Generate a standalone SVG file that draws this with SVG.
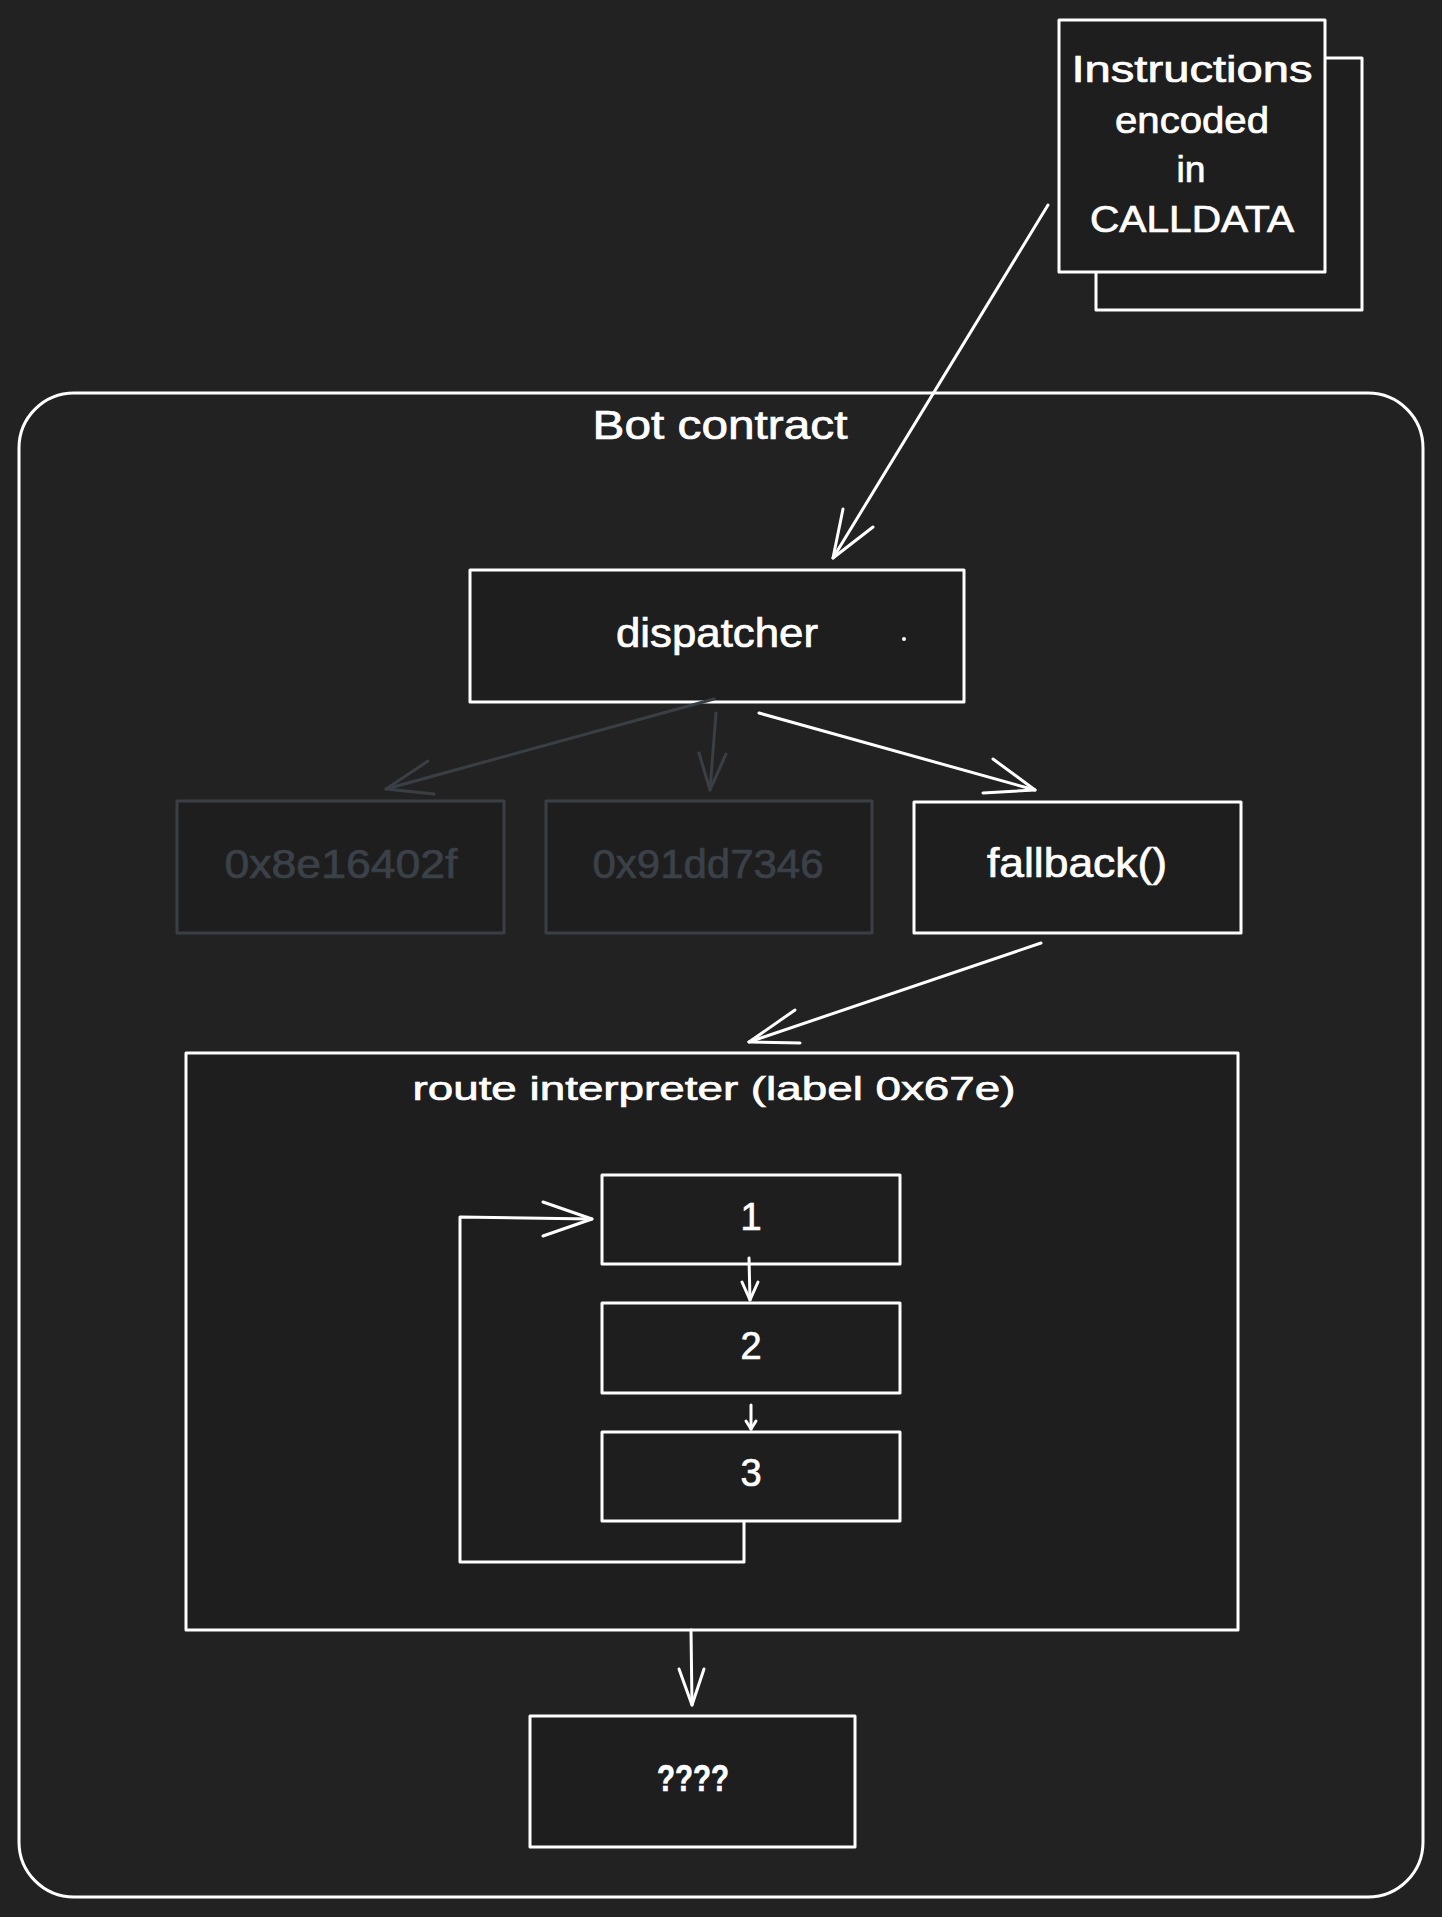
<svg xmlns="http://www.w3.org/2000/svg" width="1442" height="1917" viewBox="0 0 1442 1917">
  <defs>
    <style>
      .bg { fill: #222222; }
      .node { fill: #1e1e1e; stroke: #ffffff; stroke-width: 3; stroke-linejoin: round; }
      .ghost { fill: #1e1e1e; stroke: #3a3f46; stroke-width: 3; stroke-linejoin: round; }
      .container { fill: none; stroke: #ffffff; stroke-width: 3; }
      .t { font-family: "Liberation Sans", Arial, sans-serif; fill: #ffffff; stroke: #ffffff; stroke-width: 0.7; text-anchor: middle; }
      .tg { font-family: "Liberation Sans", Arial, sans-serif; fill: #3b4149; stroke: #3b4149; stroke-width: 0.7; text-anchor: middle; }
      .w { fill: none; stroke: #ffffff; stroke-width: 3; stroke-linecap: round; stroke-linejoin: round; }
      .g { fill: none; stroke: #3a3f46; stroke-width: 3; stroke-linecap: round; stroke-linejoin: round; }
    </style>
  </defs>
  <rect class="bg" x="0" y="0" width="1442" height="1917"/>

  <g id="bot-contract">
    <rect class="container" x="19" y="393" width="1404" height="1504" rx="55" ry="55"/>
    <text class="t" x="720" y="439" font-size="40" textLength="255" lengthAdjust="spacingAndGlyphs">Bot contract</text>
  </g>

  <g id="calldata">
    <rect class="node" x="1096" y="58" width="266" height="252"/>
    <rect class="node" x="1059" y="20" width="266" height="252"/>
    <text class="t" x="1192" y="82" font-size="36" textLength="241" lengthAdjust="spacingAndGlyphs">Instructions</text>
    <text class="t" x="1192" y="133" font-size="36" textLength="154" lengthAdjust="spacingAndGlyphs">encoded</text>
    <text class="t" x="1191" y="182" font-size="36" textLength="29" lengthAdjust="spacingAndGlyphs">in</text>
    <text class="t" x="1192" y="232" font-size="36" textLength="204" lengthAdjust="spacingAndGlyphs">CALLDATA</text>
  </g>

  <g id="dispatcher">
    <rect class="node" x="470" y="570" width="494" height="132"/>
    <text class="t" x="717" y="647" font-size="40" textLength="202" lengthAdjust="spacingAndGlyphs">dispatcher</text>
    <circle cx="904" cy="639" r="2" fill="#ffffff"/>
  </g>

  <g id="sel-0x8e16402f">
    <rect class="ghost" x="177" y="801" width="327" height="132"/>
    <text class="tg" x="341" y="878" font-size="40" textLength="233" lengthAdjust="spacingAndGlyphs">0x8e16402f</text>
  </g>

  <g id="sel-0x91dd7346">
    <rect class="ghost" x="546" y="801" width="326" height="132"/>
    <text class="tg" x="708" y="878" font-size="40" textLength="231" lengthAdjust="spacingAndGlyphs">0x91dd7346</text>
  </g>

  <g id="fallback">
    <rect class="node" x="914" y="802" width="327" height="131"/>
    <text class="t" x="1077" y="877" font-size="40" textLength="180" lengthAdjust="spacingAndGlyphs">fallback()</text>
  </g>

  <g id="route-interpreter">
    <rect class="node" x="186" y="1053" width="1052" height="577"/>
    <text class="t" x="714" y="1100" font-size="34" textLength="603" lengthAdjust="spacingAndGlyphs">route interpreter (label 0x67e)</text>
  </g>

  <g id="step-1">
    <rect class="node" x="602" y="1175" width="298" height="89"/>
    <text class="t" x="751" y="1230" font-size="38">1</text>
  </g>
  <g id="step-2">
    <rect class="node" x="602" y="1303" width="298" height="90"/>
    <text class="t" x="751" y="1359" font-size="38">2</text>
  </g>
  <g id="step-3">
    <rect class="node" x="602" y="1432" width="298" height="89"/>
    <text class="t" x="751" y="1486" font-size="38">3</text>
  </g>

  <g id="unknown">
    <rect class="node" x="530" y="1716" width="325" height="131"/>
    <text class="t" x="693" y="1791" font-size="37" font-weight="bold" textLength="72" lengthAdjust="spacingAndGlyphs">????</text>
  </g>

  <g id="connectors">
    <!-- calldata -> dispatcher -->
    <path class="w" d="M1048 205 L833 558"/>
    <path class="w" d="M843 509 L833 558 L873 527"/>
    <!-- dispatcher -> 0x8e16402f (ghost) -->
    <path class="g" d="M714 699 L386 789"/>
    <path class="g" d="M428 761 L386 789 L434 794"/>
    <!-- dispatcher -> 0x91dd7346 (ghost) -->
    <path class="g" d="M716 713 L710 790"/>
    <path class="g" d="M699 753 L710 790 L726 754"/>
    <!-- dispatcher -> fallback -->
    <path class="w" d="M759 713 L1035 790"/>
    <path class="w" d="M993 759 L1035 790 L983 793"/>
    <!-- fallback -> route interpreter -->
    <path class="w" d="M1041 943 L749 1042"/>
    <path class="w" d="M795 1010 L749 1042 L800 1043"/>
    <!-- 1 -> 2 -->
    <path class="w" d="M749 1258 L750 1300"/>
    <path class="w" d="M742 1282 L750 1300 L758 1282"/>
    <!-- 2 -> 3 -->
    <path class="w" d="M751 1405 L751 1429"/>
    <path class="w" d="M746 1421 L751 1429 L756 1421"/>
    <!-- 3 -> 1 loop -->
    <path class="w" d="M744 1522 L744 1562 L460 1562 L460 1217 L592 1219"/>
    <path class="w" d="M543 1202 L592 1219 L543 1236"/>
    <!-- route interpreter -> ???? -->
    <path class="w" d="M691 1630 L692 1705"/>
    <path class="w" d="M679 1669 L692 1705 L704 1669"/>
  </g>
</svg>
